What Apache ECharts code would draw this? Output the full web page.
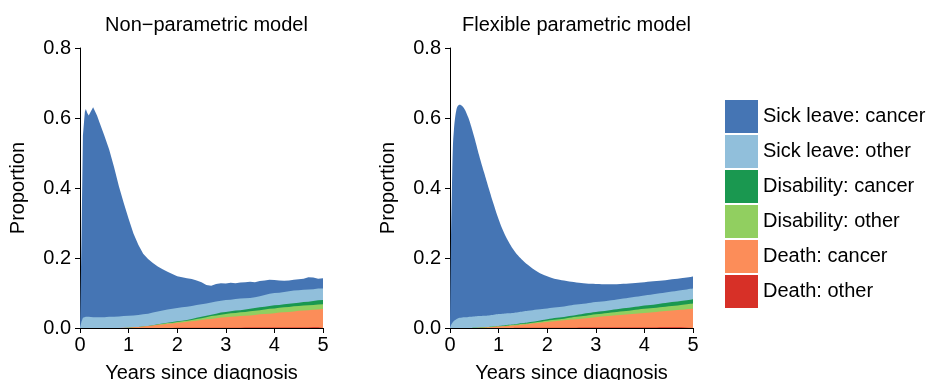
<!DOCTYPE html>
<html>
<head>
<meta charset="utf-8">
<script src="https://cdn.jsdelivr.net/npm/echarts@6/dist/echarts.min.js"></script>
<style>
  html, body { margin: 0; padding: 0; background: #fff; }
  #chart { width: 928px; height: 380px; }
</style>
</head>
<body>
<div id="chart"></div>
<script>
// State names, top of the stack first (legend order)
const states = ['Sick leave: cancer', 'Sick leave: other', 'Disability: cancer',
                'Disability: other', 'Death: cancer', 'Death: other'];
const stateColors = ['#4575b4', '#91bfdb', '#1a9850', '#91cf60', '#fc8d59', '#d73027'];

const panelTitles = ['Non\u2212parametric model', 'Flexible parametric model'];
const xTicks = [0, 1, 2, 3, 4, 5];
const yTicks = [0, 0.2, 0.4, 0.6, 0.8];

// ---- Non-parametric model: years since diagnosis ----
const npYears = [0, 0.03, 0.06, 0.1, 0.12, 0.15, 0.18, 0.22, 0.27, 0.3, 0.35, 0.4,
  0.5, 0.6, 0.7, 0.8, 0.9, 1.0, 1.1, 1.2, 1.3, 1.4, 1.5, 1.6, 1.7, 1.8, 1.9, 2.0,
  2.1, 2.2, 2.3, 2.4, 2.5, 2.6, 2.7, 2.8, 2.9, 3.0, 3.1, 3.2, 3.3, 3.4, 3.5, 3.6,
  3.7, 3.8, 3.9, 4.0, 4.1, 4.2, 4.3, 4.4, 4.5, 4.6, 4.7, 4.8, 4.9, 5.0];

// Cumulative proportion up to and including each state (stack bottom = Death: other)
const npUpperSickCancer = [0, 0.25, 0.55, 0.618, 0.626, 0.614, 0.607, 0.618, 0.631, 0.628, 0.607, 0.588,
  0.55, 0.51, 0.46, 0.405, 0.357, 0.312, 0.27, 0.238, 0.212, 0.197, 0.186, 0.176, 0.168, 0.161, 0.154, 0.148,
  0.145, 0.142, 0.14, 0.136, 0.131, 0.123, 0.121, 0.126, 0.128, 0.127, 0.129, 0.128, 0.13, 0.131, 0.132, 0.131,
  0.134, 0.136, 0.138, 0.137, 0.136, 0.135, 0.136, 0.138, 0.139, 0.141, 0.145, 0.144, 0.141, 0.142];
const npUpperSickOther = [0, 0.018, 0.029, 0.031, 0.032, 0.032, 0.032, 0.031, 0.031, 0.031, 0.031, 0.031,
  0.031, 0.032, 0.032, 0.033, 0.034, 0.035, 0.036, 0.037, 0.039, 0.041, 0.044, 0.047, 0.05, 0.053, 0.055, 0.057,
  0.059, 0.061, 0.063, 0.066, 0.068, 0.07, 0.073, 0.076, 0.078, 0.08, 0.081, 0.083, 0.084, 0.085, 0.086, 0.088,
  0.091, 0.094, 0.098, 0.1, 0.101, 0.103, 0.105, 0.107, 0.108, 0.109, 0.11, 0.111, 0.113, 0.113];
const npUpperDisCancer = [0, 0, 0, 0, 0, 0, 0, 0, 0, 0, 0, 0,
  0, 0, 0, 0, 0, 0.001, 0.002, 0.003, 0.004, 0.006, 0.008, 0.011, 0.013, 0.015, 0.017, 0.019,
  0.021, 0.023, 0.026, 0.029, 0.032, 0.035, 0.038, 0.041, 0.044, 0.046, 0.048, 0.05, 0.051, 0.053, 0.055, 0.057,
  0.059, 0.061, 0.063, 0.065, 0.066, 0.068, 0.069, 0.071, 0.072, 0.074, 0.075, 0.077, 0.079, 0.08];
const npUpperDisOther = [0, 0, 0, 0, 0, 0, 0, 0, 0, 0, 0, 0,
  0, 0, 0, 0, 0, 0.001, 0.002, 0.003, 0.004, 0.006, 0.007, 0.01, 0.012, 0.014, 0.015, 0.017,
  0.019, 0.021, 0.023, 0.026, 0.028, 0.031, 0.034, 0.036, 0.038, 0.04, 0.042, 0.043, 0.045, 0.046, 0.048, 0.049,
  0.051, 0.053, 0.055, 0.056, 0.058, 0.059, 0.06, 0.062, 0.063, 0.064, 0.065, 0.066, 0.067, 0.068];
const npUpperDeathCancer = [0, 0, 0, 0, 0, 0, 0, 0, 0, 0, 0, 0,
  0, 0, 0, 0, 0.0005, 0.001, 0.002, 0.003, 0.004, 0.006, 0.007, 0.009, 0.01, 0.012, 0.013, 0.015,
  0.016, 0.018, 0.019, 0.021, 0.023, 0.025, 0.026, 0.028, 0.03, 0.031, 0.032, 0.033, 0.034, 0.035, 0.036, 0.037,
  0.039, 0.04, 0.041, 0.042, 0.044, 0.045, 0.046, 0.047, 0.049, 0.05, 0.051, 0.052, 0.053, 0.054];
const npUpperDeathOther = [0, 0, 0, 0, 0, 0, 0, 0, 0, 0, 0, 0,
  0, 0, 0, 0, 0, 0, 0, 0, 0, 0, 0, 0.0002, 0.0002, 0.0003, 0.0003, 0.0004,
  0.0004, 0.0005, 0.0005, 0.0006, 0.0006, 0.0007, 0.0007, 0.0008, 0.0008, 0.0009, 0.0009, 0.001, 0.001, 0.0011, 0.0011, 0.0012,
  0.0012, 0.0013, 0.0013, 0.0014, 0.0014, 0.0015, 0.0015, 0.0016, 0.0016, 0.0017, 0.0017, 0.0018, 0.0018, 0.0019];

// ---- Flexible parametric model: years since diagnosis ----
const fpYears = [0, 0.02, 0.04, 0.06, 0.08, 0.1, 0.13, 0.16, 0.2, 0.25, 0.3, 0.35, 0.4,
  0.5, 0.6, 0.7, 0.8, 0.9, 1.0, 1.1, 1.2, 1.3, 1.4, 1.5, 1.6, 1.8, 2.0, 2.2, 2.4, 2.6,
  2.8, 3.0, 3.25, 3.5, 3.75, 4.0, 4.25, 4.5, 4.75, 5.0];

const fpUpperSickCancer = [0, 0.25, 0.4, 0.52, 0.565, 0.595, 0.622, 0.634, 0.638, 0.634, 0.625, 0.61, 0.592,
  0.545, 0.493, 0.445, 0.398, 0.353, 0.311, 0.276, 0.248, 0.225, 0.207, 0.193, 0.181, 0.161, 0.148, 0.139, 0.134, 0.13,
  0.127, 0.126, 0.125, 0.126, 0.128, 0.131, 0.134, 0.138, 0.142, 0.147];
const fpUpperSickOther = [0, 0.008, 0.013, 0.017, 0.02, 0.022, 0.025, 0.027, 0.029, 0.03, 0.031, 0.031, 0.032,
  0.033, 0.034, 0.035, 0.036, 0.038, 0.04, 0.041, 0.042, 0.043, 0.045, 0.047, 0.049, 0.053, 0.056, 0.059, 0.063, 0.067,
  0.07, 0.074, 0.078, 0.083, 0.088, 0.093, 0.098, 0.103, 0.108, 0.113];
const fpUpperDisCancer = [0, 0, 0, 0, 0, 0, 0, 0, 0, 0, 0, 0, 0,
  0.001, 0.001, 0.002, 0.003, 0.004, 0.006, 0.007, 0.009, 0.01, 0.012, 0.014, 0.016, 0.02, 0.025, 0.029, 0.033, 0.037,
  0.042, 0.046, 0.05, 0.055, 0.059, 0.064, 0.068, 0.073, 0.077, 0.082];
const fpUpperDisOther = [0, 0, 0, 0, 0, 0, 0, 0, 0, 0, 0, 0, 0,
  0.001, 0.001, 0.002, 0.003, 0.004, 0.005, 0.006, 0.007, 0.009, 0.01, 0.012, 0.013, 0.017, 0.021, 0.024, 0.028, 0.032,
  0.035, 0.039, 0.043, 0.047, 0.051, 0.055, 0.058, 0.062, 0.066, 0.07];
const fpUpperDeathCancer = [0, 0, 0, 0, 0, 0, 0, 0, 0, 0, 0, 0, 0,
  0, 0.001, 0.001, 0.002, 0.003, 0.004, 0.005, 0.006, 0.007, 0.008, 0.01, 0.011, 0.014, 0.017, 0.02, 0.023, 0.025,
  0.028, 0.031, 0.034, 0.037, 0.04, 0.043, 0.046, 0.049, 0.052, 0.055];
const fpUpperDeathOther = [0, 0, 0, 0, 0, 0, 0, 0, 0, 0, 0, 0, 0,
  0, 0, 0, 0, 0, 0.0002, 0.0002, 0.0003, 0.0003, 0.0004, 0.0004, 0.0005, 0.0006, 0.0007, 0.0008, 0.0009, 0.001,
  0.0011, 0.0012, 0.0013, 0.0014, 0.0015, 0.0016, 0.0017, 0.0018, 0.0019, 0.002];

const FONT = '"Liberation Sans", Arial, Helvetica, sans-serif';

const panels = [
  { years: npYears, smooth: false,
    uppers: [npUpperSickCancer, npUpperSickOther, npUpperDisCancer, npUpperDisOther, npUpperDeathCancer, npUpperDeathOther] },
  { years: fpYears, smooth: 0.4,
    uppers: [fpUpperSickCancer, fpUpperSickOther, fpUpperDisCancer, fpUpperDisOther, fpUpperDeathCancer, fpUpperDeathOther] }
];

const gridLeft = [80, 450];
const gridWidth = 243;

const grids = [], xAxes = [], yAxes = [], series = [], titles = [];
panels.forEach((p, g) => {
  grids.push({ left: gridLeft[g], top: 48, width: gridWidth, height: 280,
               outerBoundsMode: 'none', containLabel: false });
  titles.push({
    text: panelTitles[g], left: gridLeft[g] + gridWidth / 2, top: 10, textAlign: 'center',
    textStyle: { fontFamily: FONT, fontSize: 20, fontWeight: 'normal', color: '#000' }
  });
  xAxes.push({
    gridIndex: g, type: 'value', min: xTicks[0], max: xTicks[xTicks.length - 1], interval: 1,
    name: 'Years since diagnosis', nameLocation: 'middle', nameGap: 35,
    nameTextStyle: { fontFamily: FONT, fontSize: 20, color: '#000' },
    axisLine: { show: true, onZero: false, lineStyle: { color: '#000', width: 1 } },
    axisTick: { show: true, inside: false, length: 5, lineStyle: { color: '#000' } },
    axisLabel: { fontFamily: FONT, fontSize: 20, color: '#000', margin: 7 },
    splitLine: { show: false }
  });
  yAxes.push({
    gridIndex: g, type: 'value', min: yTicks[0], max: yTicks[yTicks.length - 1], interval: 0.2,
    name: 'Proportion', nameLocation: 'middle', nameGap: 52,
    nameTextStyle: { fontFamily: FONT, fontSize: 20, color: '#000' },
    axisLine: { show: true, lineStyle: { color: '#000', width: 1 } },
    axisTick: { show: true, inside: false, length: 5, lineStyle: { color: '#000' } },
    axisLabel: { fontFamily: FONT, fontSize: 20, color: '#000', margin: 9,
                 formatter: v => v.toFixed(1) },
    splitLine: { show: false }
  });
  // Each state's area runs from zero up to its cumulative bound; drawing the
  // largest bound first and the smaller ones over it leaves one band per state.
  states.forEach((name, k) => {
    series.push({
      name: name, type: 'line', xAxisIndex: g, yAxisIndex: g,
      smooth: p.smooth,
      showSymbol: false, symbol: 'none', silent: true, z: 2 + k,
      lineStyle: { width: 0, color: stateColors[k] },
      itemStyle: { color: stateColors[k] },
      areaStyle: { color: stateColors[k], opacity: 1, origin: 'start' },
      emphasis: { disabled: true },
      data: p.years.map((t, i) => [t, p.uppers[k][i]])
    });
  });
});

const chart = echarts.init(document.getElementById('chart'), null, { renderer: 'canvas' });
chart.setOption({
  animation: false,
  backgroundColor: '#fff',
  title: titles,
  grid: grids,
  xAxis: xAxes,
  yAxis: yAxes,
  legend: {
    data: states.map(s => ({ name: s, icon: 'rect' })),
    orient: 'vertical', left: 725, top: 100, padding: 0,
    itemWidth: 33, itemHeight: 33, itemGap: 2,
    selectedMode: false,
    textStyle: { fontFamily: FONT, fontSize: 20, color: '#000' }
  },
  tooltip: { show: false },
  series: series
});
</script>
</body>
</html>
